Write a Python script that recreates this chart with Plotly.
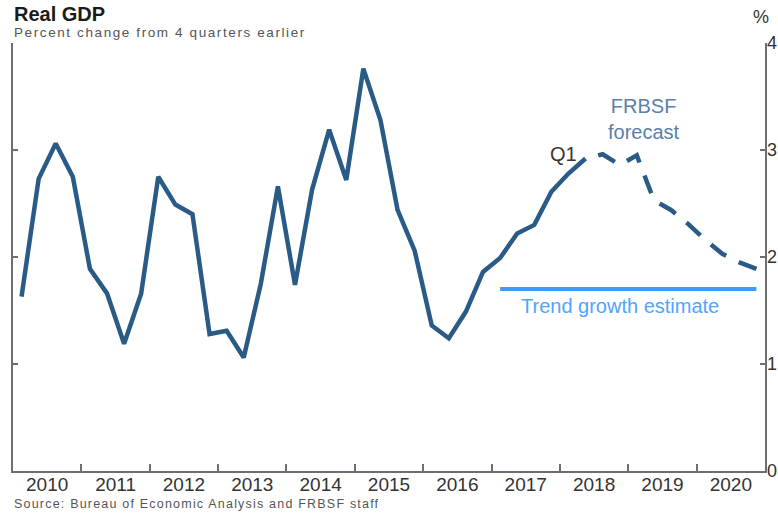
import plotly.graph_objects as go

# Real GDP, percent change from 4 quarters earlier (actual data)
actual_quarters = [
    "2010Q1", "2010Q2", "2010Q3", "2010Q4",
    "2011Q1", "2011Q2", "2011Q3", "2011Q4",
    "2012Q1", "2012Q2", "2012Q3", "2012Q4",
    "2013Q1", "2013Q2", "2013Q3", "2013Q4",
    "2014Q1", "2014Q2", "2014Q3", "2014Q4",
    "2015Q1", "2015Q2", "2015Q3", "2015Q4",
    "2016Q1", "2016Q2", "2016Q3", "2016Q4",
    "2017Q1", "2017Q2", "2017Q3", "2017Q4",
    "2018Q1", "2018Q2",
]
actual_values = [
    1.63, 2.73, 3.06, 2.75,
    1.89, 1.66, 1.19, 1.66,
    2.75, 2.49, 2.40, 1.28,
    1.31, 1.06, 1.75, 2.66,
    1.74, 2.63, 3.19, 2.72,
    3.76, 3.28, 2.44, 2.06,
    1.36, 1.24, 1.49, 1.86,
    1.99, 2.22, 2.30, 2.61,
    2.78, 2.92,
]

# FRBSF forecast path
forecast_quarters = [
    "2018Q2", "2018Q3", "2018Q4",
    "2019Q1", "2019Q2", "2019Q3", "2019Q4",
    "2020Q1", "2020Q2", "2020Q3", "2020Q4",
]
forecast_values = [
    2.92, 2.96, 2.86,
    2.95, 2.53, 2.44, 2.31,
    2.16, 2.03, 1.95, 1.89,
]

# Trend growth estimate
trend_quarters = ["2017Q1", "2020Q4"]
trend_values = [1.7, 1.7]

year_labels = ["2010", "2011", "2012", "2013", "2014", "2015",
               "2016", "2017", "2018", "2019", "2020"]
y_ticks = [0, 1, 2, 3, 4]


def qpos(label):
    """Fractional-year position of the middle of a quarter."""
    year, q = label.split("Q")
    return int(year) + (int(q) - 0.5) / 4


LINE_COLOR = "#2a5a86"
AXIS_COLOR = "#6e6e6e"
TEXT_COLOR = "#333333"
FONT = "Liberation Sans, Arial, sans-serif"

fig = go.Figure()

fig.add_trace(go.Scatter(
    x=[qpos(q) for q in trend_quarters], y=trend_values,
    mode="lines", line=dict(color="#3d9cf5", width=4),
    hoverinfo="skip", showlegend=False,
))
fig.add_trace(go.Scatter(
    x=[qpos(q) for q in actual_quarters], y=actual_values,
    mode="lines", line=dict(color=LINE_COLOR, width=4.5),
    showlegend=False,
))
# forecast: dashed, starting with a short gap after the last actual point
fig.add_trace(go.Scatter(
    x=[qpos(q) for q in forecast_quarters], y=forecast_values,
    mode="lines",
    line=dict(color=LINE_COLOR, width=4.5, dash="0px,13px,19px,1px"),
    showlegend=False,
))

# invisible trace on the secondary axis so it renders
fig.add_trace(go.Scatter(
    x=[2010, 2021], y=[0, 4], xaxis="x2",
    mode="markers", marker=dict(opacity=0), hoverinfo="skip", showlegend=False,
))

x_range = [2010, 2021]
first_year = int(year_labels[0])
boundaries = [first_year + i for i in range(1, len(year_labels))]
mid_years = [first_year + i + 0.5 for i in range(len(year_labels))]

fig.update_layout(
    width=778, height=514,
    margin=dict(l=13, r=13, t=43, b=43),
    paper_bgcolor="white", plot_bgcolor="white",
    font=dict(family=FONT, color=TEXT_COLOR),
    xaxis=dict(
        range=x_range, showgrid=False, zeroline=False, automargin=False,
        showline=True, linecolor=AXIS_COLOR, linewidth=2,
        tickvals=boundaries, ticks="inside", ticklen=7,
        tickcolor=AXIS_COLOR, tickwidth=2, showticklabels=False,
    ),
    xaxis2=dict(
        range=x_range, overlaying="x", side="bottom", showgrid=False,
        zeroline=False, showline=False, ticks="", automargin=False,
        tickvals=mid_years, ticktext=year_labels,
        tickfont=dict(size=19, color=TEXT_COLOR),
    ),
    yaxis=dict(
        range=[0, 4], showgrid=False, zeroline=False, automargin=False,
        showline=True, linecolor=AXIS_COLOR, linewidth=2, mirror="ticks",
        tickvals=y_ticks, ticks="inside", ticklen=5,
        tickcolor=AXIS_COLOR, tickwidth=2, showticklabels=False,
    ),
)


def px_to_paper_y(py):
    return (471 - py) / 428


annotations = [
    dict(text="<b>Real GDP</b>", x=0, xref="paper", xanchor="left",
         xshift=-1, y=px_to_paper_y(14), yref="paper", yanchor="middle",
         font=dict(size=20, color="#1a1a1a")),
    dict(text='<span style="letter-spacing:1.6px">'
              'Percent change from 4 quarters earlier</span>',
         x=0, xref="paper", xanchor="left", xshift=-1,
         y=px_to_paper_y(33), yref="paper", yanchor="middle",
         font=dict(size=13.5, color="#555555")),
    dict(text="%", x=1, xref="paper", xanchor="center", xshift=-4,
         y=px_to_paper_y(17), yref="paper", yanchor="middle",
         font=dict(size=18, color=TEXT_COLOR)),
    dict(text='<span style="letter-spacing:1.2px">'
              'Source: Bureau of Economic Analysis and FRBSF staff</span>',
         x=0, xref="paper", xanchor="left", xshift=-1,
         y=px_to_paper_y(504), yref="paper", yanchor="middle",
         font=dict(size=12.5, color="#555555")),
    dict(text="Q1", x=qpos("2018Q1") + 0.16, xref="x", xanchor="right",
         y=2.96, yref="y", yanchor="middle",
         font=dict(size=20, color="#3a3530")),
    dict(text="FRBSF<br>forecast", x=qpos("2019Q1") + 0.1, xref="x",
         xanchor="center", y=3.29, yref="y", yanchor="middle",
         font=dict(size=20, color="#5a80ab")),
    dict(text="Trend growth estimate", x=2018.88, xref="x",
         xanchor="center", y=1.54, yref="y", yanchor="middle",
         font=dict(size=20, color="#4da6ff")),
]

# right-hand value labels
for v in y_ticks:
    annotations.append(dict(
        text=str(v), x=1, xref="paper", xanchor="left", xshift=0,
        y=v, yref="y", yanchor="middle",
        font=dict(size=18, color=TEXT_COLOR),
    ))

fig.update_layout(annotations=[dict(a, showarrow=False) for a in annotations])

fig.write_html("out.html")
